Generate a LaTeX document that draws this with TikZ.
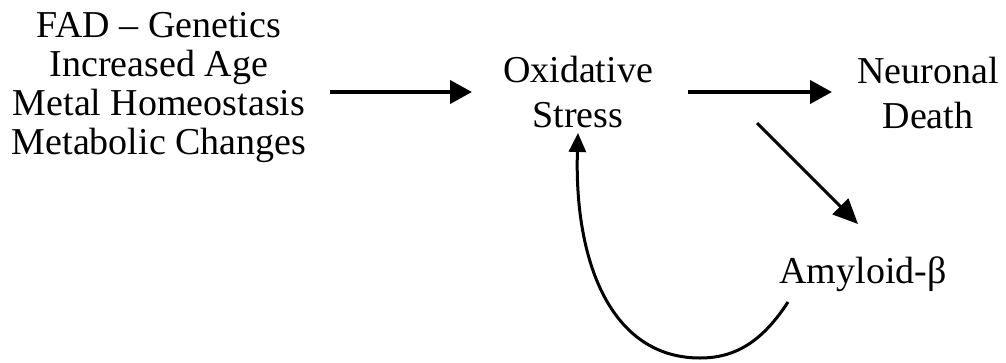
\documentclass[tikz,border=0pt]{standalone}
\usepackage{fontspec}
\setmainfont{Liberation Serif}
\usetikzlibrary{arrows.meta}
\begin{document}
\begin{tikzpicture}[x=1pt,y=-1pt,
  lbl/.style={inner sep=0pt,outer sep=0pt,align=center,anchor=base},
  tight/.style={lbl,font=\fontsize{38}{39}\selectfont},
  loose/.style={lbl,font=\fontsize{38}{45}\selectfont},
  harrow/.style={line width=4pt,-{Triangle[length=22pt,width=23pt]}},
  darrow/.style={line width=3pt,-{Triangle[length=25pt,width=22pt]}},
  carrow/.style={line width=3pt,-{Triangle[length=19pt,width=17pt]}}]
\useasboundingbox (0,0) rectangle (1006,362);
\node[tight] (causes) at (159,154) {FAD – Genetics\\Increased Age\\Metal Homeostasis\\Metabolic Changes};
\node[loose] (ox) at (578,127) {Oxidative\\Stress};
\node[loose] (nd) at (928,128) {Neuronal\\Death};
\node[loose] (ab) at (863,283) {Amyloid-β};
\coordinate (a1s) at (330,92);
\coordinate (a1e) at (472,92);
\coordinate (a2s) at (688,92);
\coordinate (a2e) at (832,92);
\coordinate (a3s) at (757,123);
\coordinate (a3e) at (858,224);
\coordinate (cs) at (788,302);
\coordinate (cb) at (700,358);
\coordinate (ce) at (578,133);
\draw[harrow] (a1s) -- (a1e);
\draw[harrow] (a2s) -- (a2e);
\draw[darrow] (a3s) -- (a3e);
\draw[carrow] (cs) .. controls (762,342) and (735,358) .. (cb)
  .. controls (610,358) and (574,260) .. (ce);
\end{tikzpicture}
\end{document}
